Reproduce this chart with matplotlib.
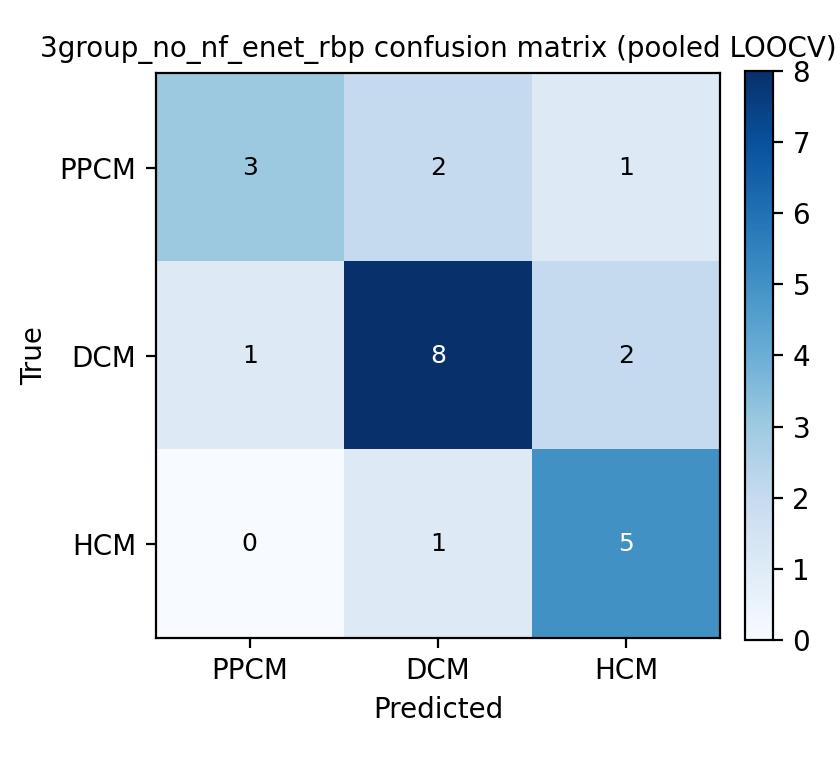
import numpy as np
import matplotlib
matplotlib.use('Agg')
import matplotlib.pyplot as plt

labels = ['PPCM', 'DCM', 'HCM']
cm = np.array([[3, 2, 1],
               [1, 8, 2],
               [0, 1, 5]])

fig = plt.figure(figsize=(4.2, 3.8), dpi=200)
ax = fig.add_axes([0.1854, 0.1609, 0.6718, 0.7424])
cax = fig.add_axes([0.8869, 0.1579, 0.0333, 0.7487])

im = ax.imshow(cm, cmap='Blues', vmin=0, vmax=cm.max(), aspect='auto')
fig.colorbar(im, cax=cax)

ax.set_xticks(range(len(labels)))
ax.set_xticklabels(labels)
ax.set_yticks(range(len(labels)))
ax.set_yticklabels(labels)
ax.set_xlabel('Predicted')
ax.set_ylabel('True')
ax.set_title('3group_no_nf_enet_rbp confusion matrix (pooled LOOCV)', fontsize=10)

thresh = cm.max() / 2
for i in range(cm.shape[0]):
    for j in range(cm.shape[1]):
        ax.text(j, i, str(cm[i, j]), ha='center', va='center', fontsize=9,
                color='white' if cm[i, j] > thresh else 'black')

fig.savefig('out.png', dpi=200)
